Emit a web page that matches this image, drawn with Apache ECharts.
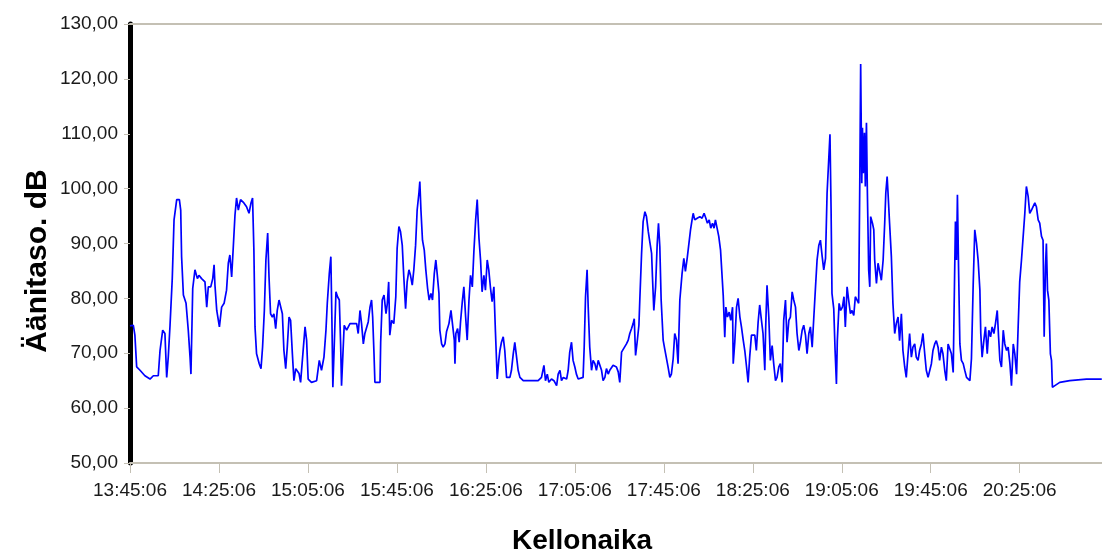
<!DOCTYPE html>
<html>
<head>
<meta charset="utf-8">
<script src="https://cdn.jsdelivr.net/npm/echarts@6/dist/echarts.min.js"></script>
<style>
html,body{margin:0;padding:0;background:#fff;}
#chart{width:1102px;height:553px;}
</style>
</head>
<body>
<div id="chart"></div>
<script>
// Minutes elapsed since 13:45:06
const startTime = '13:45:06';
const minutes = [
0,1.5,2.2,3.0,4.5,6.7,9.0,10.5,12.7,13.5,14.7,15.7,16.5,17.2,18.0,19.0,19.8,21.0,22.2,22.8,23.2,24.0,25.2,26.2,27.0,27.4,28.2,29.2,30.3,31.0,32.2,33.7,34.5,35.2,36.3,37.2,37.8,38.2,39.0,40.2,41.2,42.3,43.4,44.2,44.9,45.7,46.4,47.2,47.9,48.7,49.7,51.2,52.4,53.5,54.4,55.1,55.7,56.2,56.9,58.1,58.9,59.6,60.4,61.1,61.9,62.5,63.2,64.0,64.7,65.5,66.2,67.0,67.7,68.5,69.2,70.0,70.7,71.5,72.2,73.0,73.7,74.5,75.2,76.0,76.7,77.9,78.7,79.4,80.1,81.6,83.9,85.1,
85.4,86.1,87.2,88.1,88.7,89.6,90.3,90.8,91.2,91.8,92.6,93.3,94.1,94.7,95.1,95.6,96.3,97.4,98.1,98.9,100.4,101.9,102.6,103.4,104.1,104.9,105.6,106.4,107.1,107.9,108.6,109.1,109.7,110.1,112.4,112.7,113.4,114.2,115.1,115.7,116.3,116.8,117.6,118.6,119.5,120.1,120.9,121.6,122.4,123.1,123.9,124.6,125.4,126.1,126.9,127.6,128.4,129.1,129.9,130.3,130.8,131.5,132.3,133.0,133.8,134.5,135.3,136.0,136.8,137.5,138.1,138.9,139.3,140.1,140.8,141.6,142.3,143.4,144.3,145.0,145.8,146.1,146.5,147.3,148.0,148.6,149.4,150.1,150.9,151.6,152.4,153.1,153.9,154.6,155.4,156.1,156.9,157.6,158.3,159.1,159.8,160.6,161.3,162.1,162.8,163.6,164.3,165.1,165.8,
166.3,167.0,167.8,168.5,169.3,170.8,171.5,172.3,173.0,173.8,174.5,175.3,176.8,183.5,184.3,185.0,186.1,186.8,187.6,188.3,189.5,190.6,191.8,192.5,193.3,194.0,194.8,196.3,197.0,197.7,198.5,199.2,200.0,200.7,201.5,202.2,203.7,204.2,204.8,205.5,206.0,206.7,207.5,208.2,209.0,209.7,210.5,211.2,212.0,212.7,213.5,214.2,215.0,215.7,217.2,218.7,219.5,220.2,221.0,221.7,223.2,224.0,224.7,225.5,226.2,226.7,227.3,228.0,228.8,229.2,230.0,230.7,231.5,232.2,233.0,233.7,234.5,234.9,235.5,236.3,237.0,237.6,238.2,238.8,239.7,240.4,241.2,241.9,242.7,243.4,244.2,244.9,245.7,246.4,247.2,
248.2,249.0,249.7,250.5,251.2,252.0,252.7,253.2,253.9,255.0,256.2,257.2,258.1,258.9,259.6,260.4,261.1,261.9,262.6,263.2,264.0,264.7,265.5,266.2,266.7,267.4,267.9,268.6,269.4,270.1,270.9,271.2,271.9,272.7,273.4,274.2,274.9,275.7,276.4,277.2,277.9,278.6,279.4,280.1,280.9,281.6,282.4,283.1,283.9,284.6,285.4,285.8,286.4,287.2,287.9,288.7,289.4,290.2,290.9,291.7,292.4,293.2,293.9,294.7,295.4,296.2,296.9,297.7,298.4,299.2,299.9,300.7,301.4,302.2,302.9,303.7,304.4,305.2,305.9,306.7,307.4,308.2,308.9,309.7,310.4,311.2,311.9,312.7,313.4,
314.7,315.2,315.6,316.4,317.0,317.6,318.0,318.8,319.5,320.3,321.0,321.6,322.4,323.1,323.9,324.6,325.4,326.1,326.9,327.6,328.1,328.5,329.0,329.3,329.7,330.2,330.6,331.1,331.5,332.1,332.6,333.0,333.8,334.4,334.8,335.6,336.3,337.1,337.8,338.6,339.3,339.8,340.4,340.8,341.5,342.3,343.0,343.8,344.5,345.3,346.0,346.8,347.5,348.3,349.0,349.8,350.5,351.3,352.0,352.8,353.5,354.3,355.0,355.8,356.5,357.3,358.0,358.8,359.5,360.3,361.0,361.8,362.5,363.3,364.0,364.8,365.5,366.3,367.0,367.8,
368.6,369.3,370.1,370.5,371.1,371.6,372.0,372.5,373.1,373.8,374.6,375.3,376.1,376.8,377.6,378.3,379.1,379.8,380.6,381.3,382.1,382.5,383.1,383.9,384.6,385.4,386.1,386.9,387.6,388.4,389.1,389.9,390.5,391.1,391.8,392.6,393.3,394.1,394.8,395.6,396.3,397.1,397.8,398.6,399.3,400.0,400.8,401.5,402.3,403.0,403.8,404.5,405.3,406.0,406.8,407.5,408.3,409.0,409.8,410.5,411.0,411.6,412.0,412.5,413.1,413.8,414.3,414.7,415.8,418.0,422.5,430.0,436.9
];
const levels = [
75.0,75.1,73.3,67.5,66.9,65.9,65.3,65.9,65.9,70.5,74.2,73.6,65.6,69.3,75.1,83.6,94.3,98.0,98.0,96.1,87.6,80.6,79.1,74.2,69.3,66.2,81.8,85.2,83.6,84.2,83.6,83.0,78.4,82.1,82.1,83.6,86.1,82.4,77.8,74.8,78.4,79.1,81.5,86.4,87.9,83.9,89.1,95.2,98.3,96.1,98.0,97.4,96.7,95.5,97.4,98.3,88.8,74.8,69.9,68.1,67.2,71.1,77.8,87.0,91.9,83.9,77.2,76.6,77.2,74.5,77.8,79.7,80.0,77.2,70.5,67.2,71.1,76.6,76.0,69.9,65.0,67.2,66.9,66.3,64.7,70.8,74.8,72.4,65.3,64.7,65.0,68.7,
68.4,66.9,69.3,74.2,79.1,84.5,87.6,75.4,63.8,71.1,81.2,80.3,79.7,71.7,64.1,68.7,75.1,74.2,73.9,75.4,75.4,75.4,73.6,77.8,75.4,71.7,73.6,73.9,75.7,78.4,79.7,76.6,69.9,64.7,64.7,72.0,79.7,80.6,77.2,79.1,83.0,73.3,76.0,75.4,80.3,89.1,93.1,92.2,89.7,83.9,78.1,83.0,85.2,84.2,82.4,85.2,89.7,96.1,99.2,101.3,96.1,90.6,88.8,85.2,81.8,79.7,80.9,79.7,84.5,87.0,84.5,80.9,74.2,71.7,71.1,71.7,73.9,75.4,77.8,77.5,72.4,68.1,73.6,74.5,72.0,75.7,79.4,82.1,76.6,72.4,79.7,84.2,82.1,88.5,94.3,98.0,90.9,87.0,81.2,84.2,81.5,87.0,85.2,81.8,79.4,82.1,73.9,65.3,68.7,
70.5,72.0,73.0,70.5,65.6,65.6,66.9,69.9,72.0,69.3,66.9,65.6,65.0,65.0,64.7,65.6,67.8,65.0,66.2,64.7,65.3,65.0,64.1,66.2,66.9,65.0,65.6,65.3,66.9,70.2,72.0,68.7,67.5,66.2,65.3,65.0,65.6,71.1,80.3,85.2,78.4,71.1,66.9,68.7,68.1,66.9,68.7,68.4,66.9,65.0,65.6,67.2,66.2,66.9,67.8,67.5,66.6,64.7,70.2,70.5,71.7,72.4,73.6,74.5,75.4,76.3,69.6,72.0,75.1,79.7,88.2,94.0,95.8,94.9,92.2,90.3,88.2,83.9,77.8,82.1,89.7,93.7,89.4,79.7,72.4,70.8,71.1,67.5,65.6,66.2,69.0,73.6,72.4,68.1,79.7,
84.5,87.3,84.9,87.3,89.7,92.5,94.3,95.5,94.3,94.6,94.9,94.6,95.5,94.6,93.7,94.3,92.8,93.7,92.8,94.3,94.0,91.3,88.8,88.5,80.6,72.9,78.4,76.6,77.5,76.0,78.4,68.1,72.0,78.4,80.0,76.6,74.8,72.4,70.5,67.5,64.7,69.3,73.3,73.6,73.3,70.5,75.7,78.8,76.0,73.6,66.9,74.8,82.4,76.6,68.7,71.4,68.1,65.0,65.6,67.5,68.1,64.7,76.0,79.7,72.0,76.0,76.6,81.2,79.7,78.4,73.6,70.5,72.0,74.2,75.1,73.3,69.9,73.6,74.8,71.1,76.3,82.1,87.0,89.7,90.6,87.6,85.2,87.3,99.2,
109.9,96.1,80.9,78.1,70.5,64.4,72.3,79.1,77.8,78.4,80.3,74.8,82.1,79.7,77.2,77.8,76.9,80.3,80.0,79.1,101.0,122.7,101.0,111.1,102.8,110.2,100.4,112.0,99.8,85.2,82.1,94.9,93.7,92.5,87.0,82.7,86.4,84.8,83.3,87.0,93.7,99.2,102.2,99.2,93.7,87.6,79.1,73.6,75.4,76.6,72.3,77.2,70.5,67.5,65.6,69.9,73.6,69.3,71.1,71.7,69.3,68.7,70.5,71.7,73.6,69.9,66.9,65.6,65.6,68.1,70.5,71.7,72.3,71.1,68.7,71.1,69.9,66.9,65.0,71.7,
71.7,69.9,66.5,77.8,94.0,87.0,98.9,85.8,71.7,68.7,68.1,66.9,65.6,65.3,65.0,69.0,82.7,92.5,90.0,87.0,81.5,73.6,69.3,72.4,74.8,69.9,74.2,73.0,74.8,73.6,75.4,77.8,73.0,68.7,67.5,74.2,71.7,70.5,71.1,68.1,64.1,71.7,69.9,66.2,74.8,83.0,87.0,87.3,95.5,100.4,98.6,95.5,96.1,95.8,97.4,96.7,94.3,93.7,91.3,90.6,73.0,85.8,90.0,81.5,79.7,69.9,68.7,63.8,64.1,64.7,65.0,65.3,65.3
];
const yTicks = {min: 50, max: 130, step: 10};
const xTickStep = 40;
const xMax = 437;

function toClock(m) {
  const p = startTime.split(':').map(Number);
  let t = Math.round(p[0]*3600 + p[1]*60 + p[2] + m*60);
  const h = Math.floor(t/3600) % 24; t -= Math.floor(t/3600)*3600;
  const mi = Math.floor(t/60); const s = t - mi*60;
  const pad = n => String(n).padStart(2,'0');
  return pad(h)+':'+pad(mi)+':'+pad(s);
}

const data = minutes.map((m,i)=>[m, levels[i]]);
const labelFont = '"Liberation Sans",Arial,sans-serif';
const chart = echarts.init(document.getElementById('chart'), null, {renderer:'canvas'});
chart.setOption({
  animation: false,
  backgroundColor: '#ffffff',
  grid: {left: 130, right: 0, top: 24, bottom: 90, containLabel: false},
  xAxis: [{
    type: 'value', min: 0, max: xMax, interval: xTickStep,
    axisLine: {show: true, lineStyle: {color: '#c4c0b4', width: 2}},
    axisTick: {show: true, length: 10, lineStyle: {color: '#c4c0b4', width: 1}},
    splitLine: {show: false},
    axisLabel: {show: true, margin: 18, color: '#1a1a1a', fontSize: 19, fontFamily: labelFont,
      showMinLabel: true, showMaxLabel: false, hideOverlap: false, formatter: v => toClock(v)}
  },{
    type: 'value', min: 0, max: xMax, position: 'top',
    axisLine: {show: true, lineStyle: {color: '#c4c0b4', width: 2}},
    axisTick: {show: false}, axisLabel: {show: false}, splitLine: {show: false}
  }],
  yAxis: {
    type: 'value', min: yTicks.min, max: yTicks.max, interval: yTicks.step,
    axisLine: {show: true, onZero: false, lineStyle: {color: '#000000', width: 5}},
    axisTick: {show: true, length: 6, lineStyle: {color: '#c4c0b4', width: 1}},
    splitLine: {show: false},
    axisLabel: {margin: 12, color: '#1a1a1a', fontSize: 19, fontFamily: labelFont,
      showMinLabel: true, showMaxLabel: true, formatter: v => v.toFixed(2).replace('.', ',')}
  },
  series: [{
    type: 'line', data: data, xAxisIndex: 0, showSymbol: false, symbol: 'none',
    lineStyle: {color: '#0000ff', width: 1.7}, clip: true
  }],
  graphic: [
    {type: 'text', style: {text: 'Kellonaika', x: 582, y: 541, textAlign: 'center', textVerticalAlign: 'middle',
      font: 'bold 28px "Liberation Sans", Arial, sans-serif', fill: '#000'}},
    {type: 'text', rotation: Math.PI/2, x: 38, y: 261, style: {text: 'Äänitaso. dB', x: 0, y: 0, textAlign: 'center', textVerticalAlign: 'middle',
      font: 'bold 30px "Liberation Sans", Arial, sans-serif', fill: '#000'}}
  ]
});
</script>
</body>
</html>
